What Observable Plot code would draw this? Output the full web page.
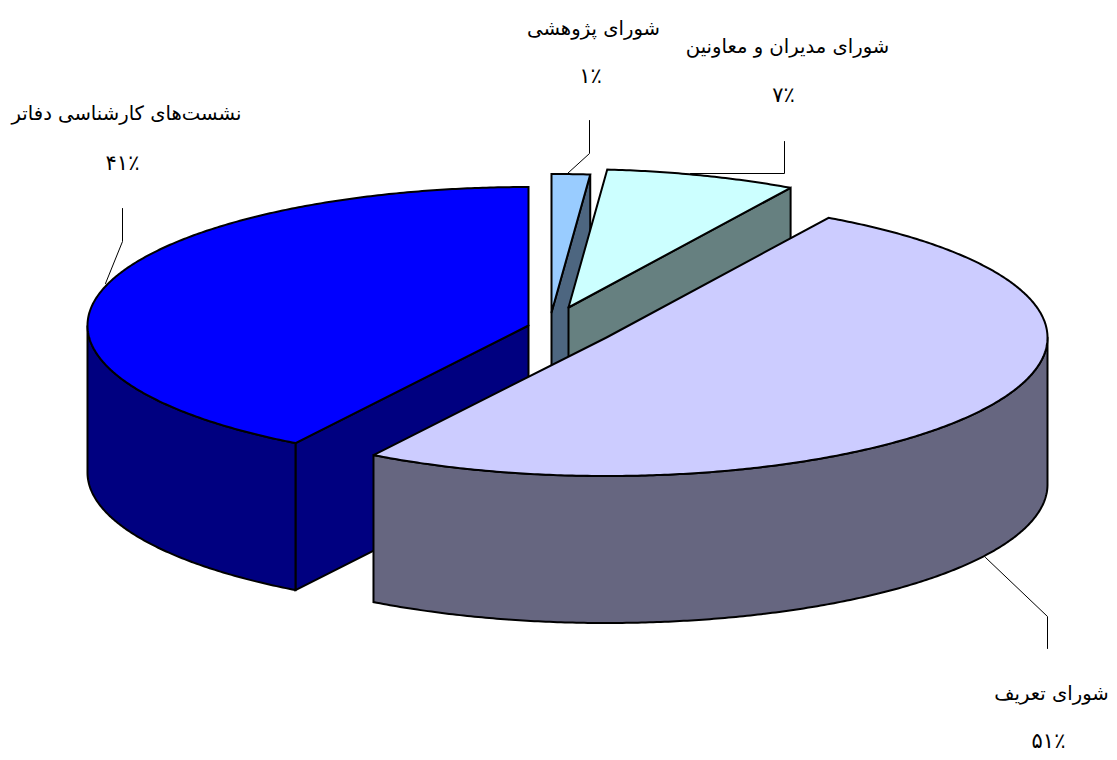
<!DOCTYPE html>
<html lang="fa">
<head>
<meta charset="utf-8">
<script src="https://cdn.jsdelivr.net/npm/d3@7"></script>
<script src="https://cdn.jsdelivr.net/npm/@observablehq/plot@0.6"></script>
<style>
html,body{margin:0;padding:0;background:#fff}
svg{display:block}
</style>
</head>
<body>
<div id="chart"></div>
<script>
// Data
const categories = ["شورای پژوهشی", "شورای مدیران و معاونین", "شورای تعریف", "نشست‌های کارشناسی دفاتر"];
const shares = [1.4, 7, 50.46, 41.14];
const percentLabels = ["۱٪", "۷٪", "۵۱٪", "۴۱٪"];
const topColors = ["#99CCFF", "#CCFFFF", "#CCCCFF", "#0000FF"];
const sideColors = ["#4D6680", "#668080", "#666680", "#000080"];

// Layout
const W = 1117, H = 760;
const rx = 441, ry = 138.5, depth = 147;
const centerX = [551, 568, 606, 528];
const centerY = [312, 307, 337, 325];
const nameX = [593, 787, 1051, 126], nameY = [28, 46, 693, 113];
const pctX = [590, 783, 1048, 122], pctY = [76, 95, 741, 163];
const leaders = [
  [[589,120],[589,153],[567,173]],
  [[784,141],[784,173],[690,173]],
  [[1047,648],[1047,616],[985,557]],
  [[122,208],[122,241],[105,283]]
];
const drawOrder = [3, 0, 1, 2];

const rad = d => d * Math.PI / 180;
function pt(i, t, dz = 0) {
  return [centerX[i] + rx * Math.sin(rad(t)), centerY[i] - ry * Math.cos(rad(t)) + dz];
}
function arc(i, a, b, dz = 0) {
  const n = Math.max(1, Math.ceil(Math.abs(b - a) / 0.5)), out = [];
  for (let k = 0; k <= n; k++) out.push(pt(i, a + (b - a) * k / n, dz));
  return out;
}

let cum = 0;
const spans = shares.map(v => { const s = [cum, cum + v * 3.6]; cum += v * 3.6; return s; });

function poly(points, fill) {
  const closed = [...points, points[0]];
  return Plot.line(closed, {
    x: d => d[0], y: d => d[1], fill, stroke: "#000", strokeWidth: 2,
    strokeLinejoin: "miter", strokeMiterlimit: 3, curve: "linear"
  });
}

const marks = [];
for (const i of drawOrder) {
  const [a, b] = spans[i];
  const c = [centerX[i], centerY[i]];
  const cb = [centerX[i], centerY[i] + depth];
  const sinA = Math.sin(rad(a)), sinB = Math.sin(rad(b));
  if (sinA < -1e-6) marks.push(poly([c, pt(i, a), pt(i, a, depth), cb], sideColors[i]));
  if (sinB > 1e-6) marks.push(poly([c, pt(i, b), pt(i, b, depth), cb], sideColors[i]));
  const fa = Math.max(a, 90), fb = Math.min(b, 270);
  if (fb > fa) marks.push(poly([...arc(i, fa, fb), ...arc(i, fb, fa, depth)], sideColors[i]));
  marks.push(poly([c, ...arc(i, a, b)], topColors[i]));
}

const leaderRows = leaders.flatMap((l, i) => l.map(p => ({i, x: p[0], y: p[1]})));
marks.push(Plot.line(leaderRows, {x: "x", y: "y", z: "i", stroke: "#000", strokeWidth: 1}));

const fontFamily = "'DejaVu Sans', sans-serif";
const rows = categories.map((c, i) => ({c, p: percentLabels[i], i}));
marks.push(Plot.text(rows, {x: d => nameX[d.i], y: d => nameY[d.i], text: "c", fontSize: 19.6, fontFamily, fill: "#000", textAnchor: "middle"}));
marks.push(Plot.text(rows, {x: d => pctX[d.i], y: d => pctY[d.i], text: "p", fontSize: 21, fontFamily, fill: "#000", textAnchor: "middle"}));

const chart = Plot.plot({
  width: W, height: H, margin: 0,
  x: {domain: [0, W], range: [0, W], axis: null},
  y: {domain: [0, H], range: [0, H], axis: null},
  style: {background: "#fff"},
  marks
});
document.getElementById("chart").append(chart);
</script>
</body>
</html>
